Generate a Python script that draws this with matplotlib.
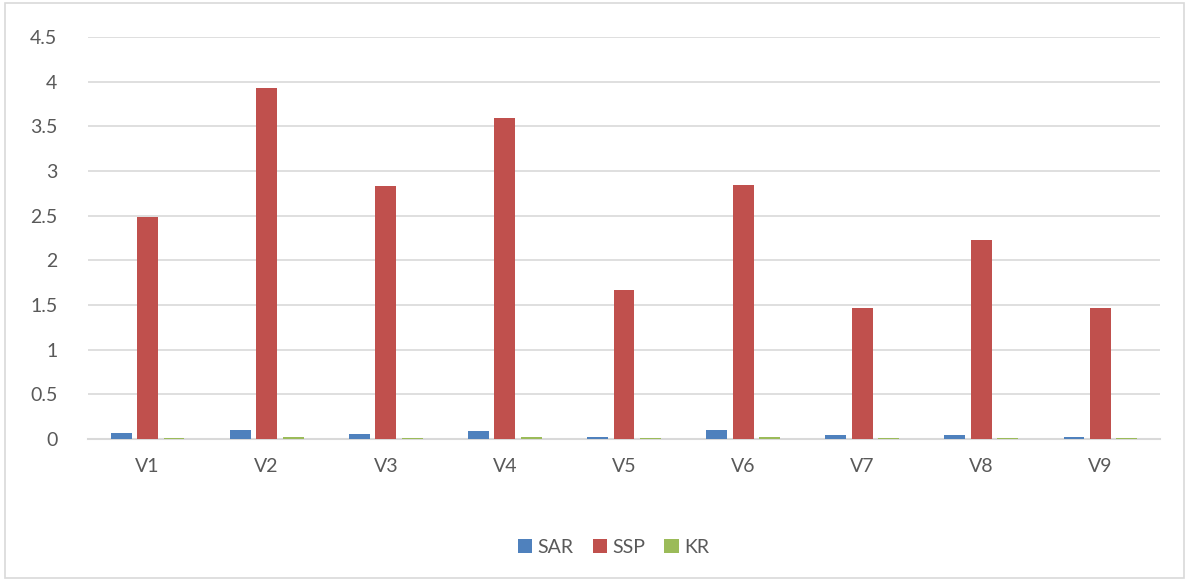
import numpy as np
import matplotlib.pyplot as plt
from matplotlib.patches import Rectangle

plt.rcParams['font.family'] = ['Lato', 'DejaVu Sans']

categories = ['V1', 'V2', 'V3', 'V4', 'V5', 'V6', 'V7', 'V8', 'V9']
sar = [0.07, 0.10, 0.06, 0.09, 0.025, 0.10, 0.04, 0.05, 0.025]
ssp = [2.48, 3.93, 2.83, 3.59, 1.67, 2.84, 1.47, 2.23, 1.47]
kr = [0.008, 0.02, 0.008, 0.02, 0.006, 0.02, 0.006, 0.008, 0.006]

series = [('SAR', sar, '#4f81bd'), ('SSP', ssp, '#c0504d'), ('KR', kr, '#9bbb59')]

fig = plt.figure(figsize=(11.89, 5.81), dpi=100)
ax = fig.add_axes([0.074, 0.2444, 0.9016, 0.6919])

x = np.arange(len(categories))
width = 0.176
offset = 0.222
for i, (name, vals, col) in enumerate(series):
    ax.bar(x + (i - 1) * offset, vals, width, color=col, label=name,
           linewidth=0, zorder=3)

ax.set_xlim(-0.5, len(categories) - 0.5)
ax.set_ylim(0, 4.5)
ax.set_yticks(np.arange(0, 4.51, 0.5))
ax.set_yticklabels(['0', '0.5', '1', '1.5', '2', '2.5', '3', '3.5', '4', '4.5'])
ax.set_xticks(x)
ax.set_xticklabels(categories)
ax.grid(axis='y', color='#d9d9d9', linewidth=1.2, zorder=0)
for s in ['top', 'right', 'left']:
    ax.spines[s].set_visible(False)
ax.spines['bottom'].set_color('#d9d9d9')
ax.spines['bottom'].set_linewidth(1.5)
ax.spines['bottom'].set_zorder(1)
ax.tick_params(length=0, labelsize=14, colors='#595959')
ax.tick_params(axis='y', pad=22)
ax.tick_params(axis='x', pad=14)

ax.legend(loc='center', bbox_to_anchor=(0.49, -0.27), ncol=3, frameon=False,
          fontsize=14, labelcolor='#595959', handlelength=0.75, handleheight=0.75,
          handletextpad=0.25, columnspacing=1.0)

fig.patches.append(Rectangle((0.004, 0.006), 0.992, 0.988, transform=fig.transFigure,
                             fill=False, edgecolor='#d9d9d9', linewidth=1.2))

fig.savefig('out.png', dpi=100)
